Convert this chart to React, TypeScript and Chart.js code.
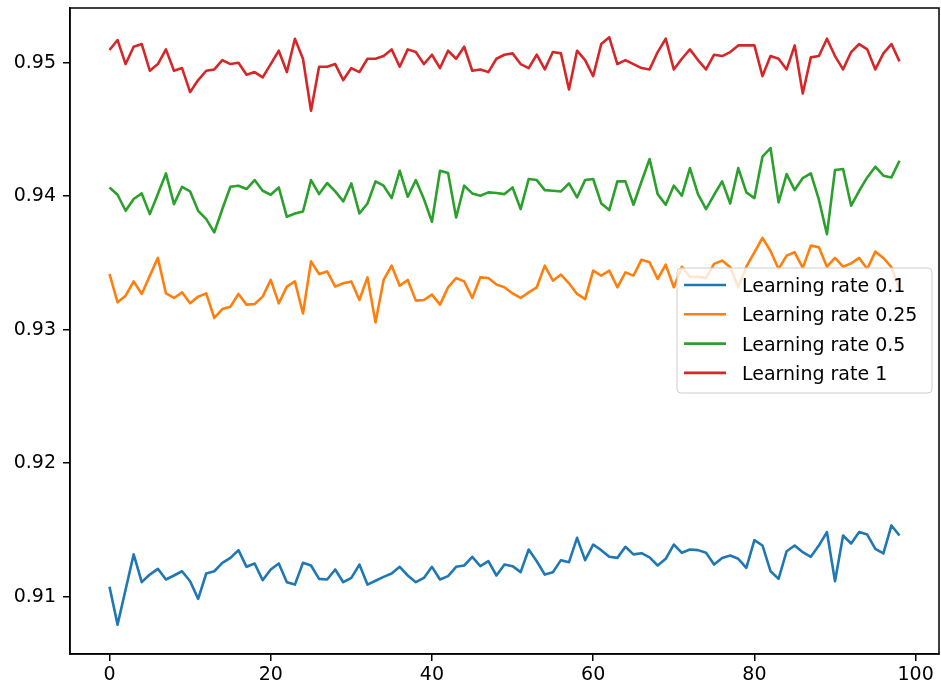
import React, { useEffect, useRef } from "react";
import { Chart, registerables } from "chart.js";

Chart.register(...registerables);

const epochs = [
  0, 1, 2, 3, 4, 5, 6, 7, 8, 9, 10, 11, 12, 13, 14, 15, 16, 17, 18, 19,
  20, 21, 22, 23, 24, 25, 26, 27, 28, 29, 30, 31, 32, 33, 34, 35, 36, 37, 38, 39,
  40, 41, 42, 43, 44, 45, 46, 47, 48, 49, 50, 51, 52, 53, 54, 55, 56, 57, 58, 59,
  60, 61, 62, 63, 64, 65, 66, 67, 68, 69, 70, 71, 72, 73, 74, 75, 76, 77, 78, 79,
  80, 81, 82, 83, 84, 85, 86, 87, 88, 89, 90, 91, 92, 93, 94, 95, 96, 97, 98,
];

const lr01 = [
  0.91074, 0.90791, 0.91054, 0.91317, 0.91109, 0.91166, 0.91209, 0.91129, 0.91159, 0.91191,
  0.91116, 0.90984, 0.91174, 0.91191, 0.91254, 0.91291, 0.91349, 0.91224, 0.91249, 0.91124,
  0.91204, 0.91249, 0.91109, 0.91091, 0.91254, 0.91234, 0.91134, 0.91129, 0.91204, 0.91109,
  0.91141, 0.91241, 0.91091, 0.9112, 0.91149, 0.91174, 0.91224, 0.91159, 0.91109, 0.91141,
  0.91224, 0.91129, 0.91154, 0.91224, 0.91234, 0.91299, 0.91229, 0.91266, 0.91159, 0.91241,
  0.91229, 0.91184, 0.91354, 0.91266, 0.91166, 0.91184, 0.91274, 0.91259, 0.91441, 0.91274,
  0.91391, 0.91349, 0.91299, 0.91291, 0.91374, 0.91317, 0.91326, 0.91295, 0.91234, 0.91284,
  0.91391, 0.91329, 0.91354, 0.91349, 0.91329, 0.91241, 0.91291, 0.91309, 0.91284, 0.91216,
  0.91424, 0.91384, 0.91191, 0.91134, 0.91341, 0.91384, 0.91334, 0.91299, 0.91384, 0.91484,
  0.91116, 0.91459, 0.91399, 0.91484, 0.91466, 0.91359, 0.91324, 0.91534, 0.91459,
];

const lr025 = [
  0.93418, 0.93205, 0.93255, 0.93362, 0.93268, 0.93405, 0.93538, 0.93272, 0.93238, 0.9328,
  0.93198, 0.93248, 0.93272, 0.93088, 0.93155, 0.93173, 0.93268, 0.93188, 0.93193, 0.93248,
  0.93373, 0.93198, 0.93323, 0.93362, 0.93122, 0.93512, 0.93418, 0.93437, 0.93323, 0.93348,
  0.93362, 0.93223, 0.93392, 0.93055, 0.93373, 0.9348, 0.9333, 0.93373, 0.93218, 0.93223,
  0.93263, 0.93188, 0.93318, 0.93387, 0.93362, 0.93238, 0.93392, 0.93387, 0.93338, 0.93318,
  0.93272, 0.93238, 0.9328, 0.93318, 0.9348, 0.93367, 0.93413, 0.93348, 0.93268, 0.9323,
  0.93443, 0.93405, 0.93443, 0.93318, 0.9343, 0.93405, 0.93525, 0.93505, 0.9338, 0.93488,
  0.93318, 0.93472, 0.93397, 0.93397, 0.93387, 0.93493, 0.93518, 0.93468, 0.93318, 0.93472,
  0.9358, 0.93688, 0.9359, 0.93455, 0.93555, 0.9358, 0.93463, 0.9363, 0.93618, 0.93472,
  0.93538, 0.93472, 0.93497, 0.93538, 0.93455, 0.93585, 0.93538, 0.93468, 0.933,
];

const lr05 = [
  0.94066, 0.94011, 0.93891, 0.93979, 0.94021, 0.93866, 0.94016, 0.94171, 0.93941, 0.94071,
  0.94036, 0.93891, 0.93829, 0.93729, 0.93904, 0.94071, 0.94079, 0.94054, 0.94121, 0.94041,
  0.94011, 0.94066, 0.93846, 0.93871, 0.93886, 0.94121, 0.94016, 0.94099, 0.94036, 0.93961,
  0.94096, 0.93871, 0.93946, 0.94111, 0.94079, 0.93986, 0.94191, 0.93996, 0.94121, 0.93979,
  0.93809, 0.94191, 0.94174, 0.93841, 0.94079, 0.94021, 0.94004, 0.94029, 0.94024, 0.94016,
  0.94066, 0.93904, 0.94129, 0.94121, 0.94046, 0.94041, 0.94036, 0.94096, 0.93991, 0.94121,
  0.94129, 0.93946, 0.93896, 0.94111, 0.94111, 0.93936, 0.9411, 0.94279, 0.94016, 0.93936,
  0.94079, 0.94004, 0.94211, 0.94016, 0.93904, 0.94011, 0.94111, 0.93946, 0.94211, 0.94029,
  0.93986, 0.94296, 0.94361, 0.93954, 0.94166, 0.94046, 0.94136, 0.94171, 0.93974, 0.93716,
  0.94196, 0.94204, 0.93929, 0.94041, 0.94141, 0.94221, 0.94154, 0.94141, 0.94266,
];

const lr1 = [
  0.95095, 0.9517, 0.9499, 0.9512, 0.9514, 0.9494, 0.9499, 0.951, 0.9494, 0.9496,
  0.9478, 0.9487, 0.9494, 0.9495, 0.9502, 0.9499, 0.95, 0.9491, 0.9493, 0.9489,
  0.9499, 0.9509, 0.9493, 0.9518, 0.9503, 0.9464, 0.9497, 0.9497, 0.9499, 0.9487,
  0.9496, 0.9493, 0.9503, 0.9503, 0.9505, 0.951, 0.9497, 0.951, 0.9508, 0.9499,
  0.9506, 0.9496, 0.9509, 0.9503, 0.9512, 0.9494, 0.9495, 0.9493, 0.9503, 0.9506,
  0.9507, 0.9499, 0.9496, 0.9506, 0.9495, 0.9508, 0.9507, 0.948, 0.9509, 0.9502,
  0.949, 0.9514, 0.9519, 0.9499, 0.9502, 0.9499, 0.9496, 0.9495, 0.9508, 0.9518,
  0.9495, 0.9503, 0.951, 0.9502, 0.9495, 0.9506, 0.9505, 0.9508, 0.9513, 0.9513,
  0.9513, 0.949, 0.9505, 0.9503, 0.9495, 0.9513, 0.9477, 0.9504, 0.9505, 0.9518,
  0.9505, 0.9495, 0.9508, 0.9514, 0.951, 0.9495, 0.9507, 0.9514, 0.9501,
];

const seriesLabels = ["Learning rate 0.1", "Learning rate 0.25", "Learning rate 0.5", "Learning rate 1"];
const seriesColors = ["#1f77b4", "#ff7f0e", "#2ca02c", "#d62728"];
const xTicks = [0, 20, 40, 60, 80, 100];
const yTicks = [0.91, 0.92, 0.93, 0.94, 0.95];

const FONT = '"DejaVu Sans", sans-serif';
const FONT_SIZE = 19;

const framePlugin = {
  id: "mplFrame",
  afterDatasetsDraw(chart: any) {
    const { ctx, chartArea: a } = chart;
    ctx.save();
    ctx.strokeStyle = "#000";
    ctx.lineWidth = 1.5;
    ctx.strokeRect(a.left, a.top, a.right - a.left, a.bottom - a.top);
    ctx.restore();
  },
  afterDraw(chart: any) {
    const { ctx, chartArea: a } = chart;
    const bx = a.right - 262;
    const by = a.top + 260;
    const bw = 255;
    const bh = 125;
    ctx.save();
    ctx.beginPath();
    if (ctx.roundRect) ctx.roundRect(bx, by, bw, bh, 4);
    else ctx.rect(bx, by, bw, bh);
    ctx.fillStyle = "rgba(255,255,255,0.8)";
    ctx.fill();
    ctx.strokeStyle = "#cccccc";
    ctx.lineWidth = 1;
    ctx.stroke();
    ctx.font = `${FONT_SIZE}px ${FONT}`;
    ctx.textAlign = "left";
    ctx.textBaseline = "alphabetic";
    chart.data.datasets.forEach((ds: any, k: number) => {
      const cy = by + 17 + k * 29.3;
      ctx.beginPath();
      ctx.moveTo(bx + 7, cy);
      ctx.lineTo(bx + 49, cy);
      ctx.strokeStyle = ds.borderColor;
      ctx.lineWidth = 2.6;
      ctx.stroke();
      ctx.fillStyle = "#000";
      ctx.fillText(ds.label, bx + 65, cy + 7);
    });
    ctx.restore();
  },
};

export default function App() {
  const canvasRef = useRef<HTMLCanvasElement | null>(null);

  useEffect(() => {
    if (!canvasRef.current) return;
    const all = [lr01, lr025, lr05, lr1];
    const chart = new Chart(canvasRef.current, {
      type: "line",
      data: {
        datasets: all.map((vals, k) => ({
          label: seriesLabels[k],
          data: vals.map((v, i) => ({ x: epochs[i], y: v })),
          borderColor: seriesColors[k],
          backgroundColor: seriesColors[k],
          borderWidth: 2.6,
          pointRadius: 0,
          tension: 0,
          borderJoinStyle: "round" as const,
          fill: false,
          order: all.length - k,
        })),
      },
      options: {
        animation: false,
        responsive: true,
        maintainAspectRatio: false,
        layout: { padding: { top: 8, right: 2, left: 0, bottom: 0 } },
        plugins: { legend: { display: false }, tooltip: { enabled: false } },
        scales: {
          x: {
            type: "linear",
            min: -4.9,
            max: 102.9,
            afterBuildTicks: (s: any) => {
              s.ticks = xTicks.map((v) => ({ value: v }));
            },
            afterFit: (s: any) => {
              s.height = 32;
              s.paddingLeft = 0;
              s.paddingRight = 0;
            },
            grid: { display: true, drawOnChartArea: false, drawTicks: true, tickLength: 7, color: "#000", lineWidth: 1.5 },
            border: { display: true, color: "#000", width: 1.5 },
            ticks: {
              font: { family: FONT, size: FONT_SIZE },
              color: "#000",
              padding: 3,
              maxRotation: 0,
              autoSkip: false,
              callback: (v: any) => String(v),
            },
          },
          y: {
            type: "linear",
            min: 0.90571,
            max: 0.9541,
            afterBuildTicks: (s: any) => {
              s.ticks = yTicks.map((v) => ({ value: v }));
            },
            afterFit: (s: any) => {
              s.width = 70;
              s.paddingTop = 0;
              s.paddingBottom = 0;
            },
            grid: { display: true, drawOnChartArea: false, drawTicks: true, tickLength: 7, color: "#000", lineWidth: 1.5 },
            border: { display: true, color: "#000", width: 1.5 },
            ticks: {
              font: { family: FONT, size: FONT_SIZE },
              color: "#000",
              padding: 7,
              autoSkip: false,
              callback: (v: any) => Number(v).toFixed(2),
            },
          },
        },
      },
      plugins: [framePlugin],
    });
    return () => chart.destroy();
  }, []);

  return (
    <div style={{ position: "absolute", left: 0, top: 0, width: 941, height: 686, background: "#fff" }}>
      <canvas ref={canvasRef} />
    </div>
  );
}
